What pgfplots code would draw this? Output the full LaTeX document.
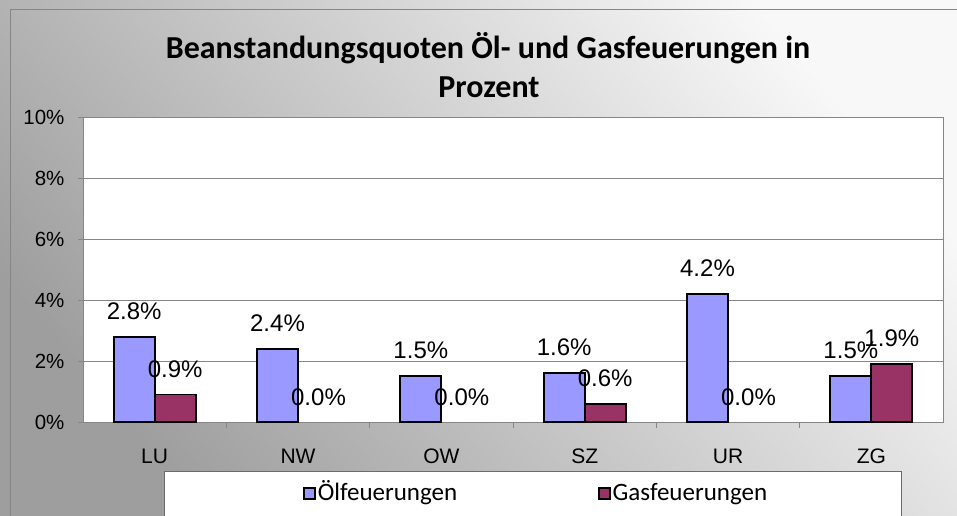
\documentclass[border=0pt]{standalone}
\usepackage{fontspec}
\setmainfont{Liberation Sans}
\newfontfamily\carlito{Carlito}
\usepackage{pgfplots}
\pgfplotsset{compat=1.18}
\definecolor{oel}{HTML}{9999FF}
\definecolor{gas}{HTML}{993366}
\definecolor{gridc}{HTML}{868686}
\definecolor{bgdark}{HTML}{9E9E9E}
\definecolor{bglight}{HTML}{F8F8F8}
\begin{document}
\begin{tikzpicture}
\begin{scope}
\clip (0pt,0pt) rectangle (957pt,515pt);
\shade[top color=bglight, bottom color=bgdark, shading angle=-50] (0pt,0pt) rectangle (957pt,515pt);
\draw[draw=gridc, line width=1pt] (10pt,-5pt) rectangle (970pt,505pt);
\draw[fill=white, draw=gridc!80!black, line width=1pt] (164pt,-5pt) rectangle (901pt,44pt);
\end{scope}
\node[font=\carlito\bfseries\fontsize{32}{34}\selectfont] at (488pt,467pt) {Beanstandungsquoten Öl- und Gasfeuerungen in};
\node[font=\carlito\bfseries\fontsize{32}{34}\selectfont] at (489pt,428pt) {Prozent};
\begin{axis}[at={(83pt,93pt)}, anchor=south west, scale only axis,
  width=860pt, height=305pt,
  xmin=-0.5, xmax=5.5, ymin=0, ymax=10,
  ybar=0pt, bar width=41pt,
  axis background/.style={fill=white},
  axis line style={draw=gridc, line width=1pt},
  ymajorgrids, grid style={draw=gridc, line width=1pt},
  xtick={0,...,5}, xticklabels={LU,NW,OW,SZ,UR,ZG},
  minor xtick={0.5,1.5,2.5,3.5,4.5},
  ytick={0,2,4,6,8,10}, yticklabels={0\%,2\%,4\%,6\%,8\%,10\%},
  xtick pos=bottom, ytick pos=left, tick align=outside,
  major tick length=5pt, minor tick length=6pt,
  tick style={draw=gridc, line width=1pt},
  major x tick style={draw=none},
  yticklabel style={font=\fontsize{20.5}{22}\selectfont, xshift=-10pt},
  xticklabel style={font=\fontsize{21}{22}\selectfont, yshift=-18pt, text height=15pt, text depth=0pt},
  nodes near coords={\pgfmathprintnumber[fixed,fixed zerofill,precision=1,assume math mode=true]{\pgfplotspointmeta}\%},
  every node near coord/.append style={font=\fontsize{24}{26}\selectfont, yshift=13pt, text=black},
  legend columns=2,
  legend style={at={(0.527,-0.24)}, anchor=center, draw=none, fill=none,
    font=\carlito\fontsize{25}{27}\selectfont,
    nodes={text height=17pt, text depth=6pt},
    /tikz/every even column/.append style={column sep=139pt}},
  legend image code/.code={\draw[#1, line width=1.5pt] (0pt,-4pt) rectangle (11pt,7pt);},
]
\addplot[fill=oel, draw=black, line width=1.8pt, bar shift=-20.5pt]
  coordinates {(0,2.8) (1,2.4) (2,1.5) (3,1.6) (4,4.2) (5,1.5)};
\addlegendentry{Ölfeuerungen}
\addplot[fill=gas, draw=black, line width=1.8pt, bar shift=20.5pt]
  coordinates {(0,0.9) (3,0.6) (5,1.9)};
\addlegendentry{Gasfeuerungen}
\addplot[fill=none, draw=none, bar shift=20.5pt, forget plot]
  coordinates {(1,0) (2,0) (4,0)};
\end{axis}
\pgfresetboundingbox
\path[use as bounding box] (0pt,0pt) rectangle (957pt,515pt);
\end{tikzpicture}
\end{document}
